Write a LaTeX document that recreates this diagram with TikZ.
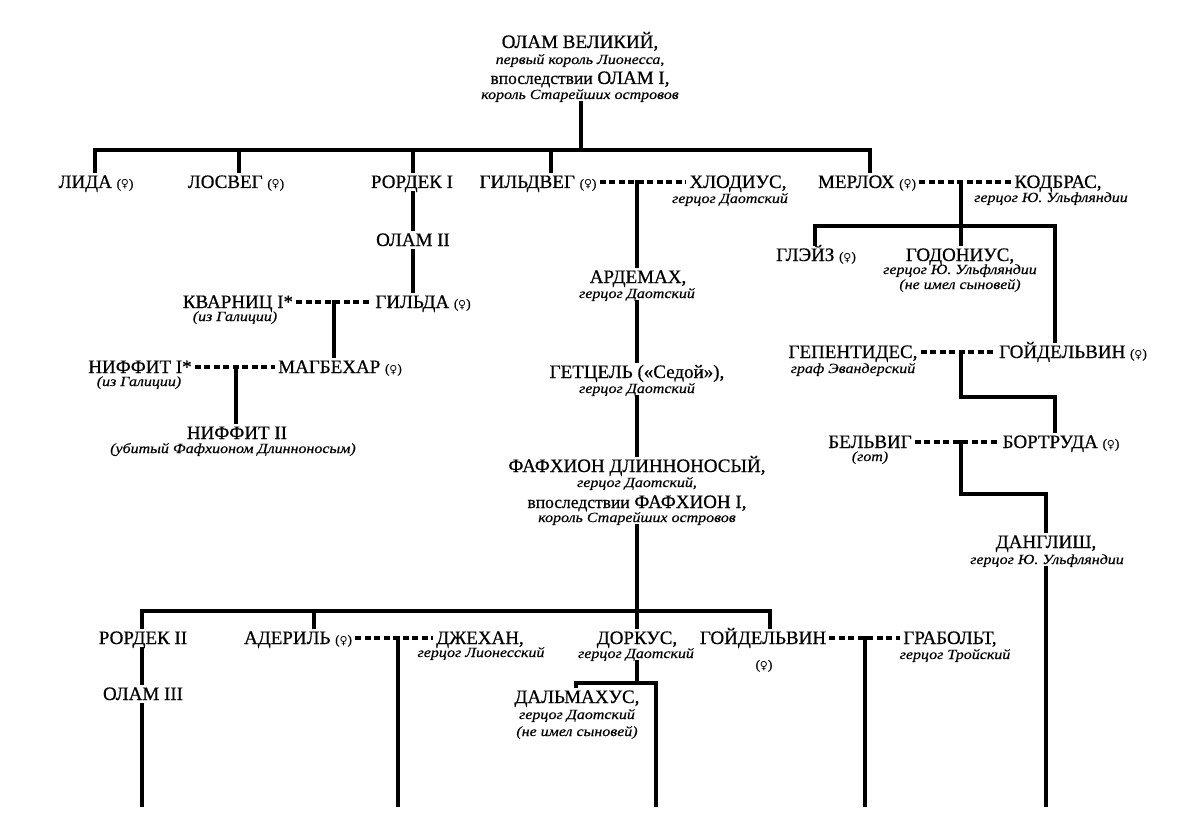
\documentclass[tikz,border=0pt]{standalone}
\usepackage{fontspec}
\setmainfont{Liberation Serif}
\newfontfamily\symf{DejaVu Sans}
\newfontfamily\nmfam[FakeBold=0.6]{Liberation Serif}
\newfontfamily\sbfam[FakeStretch=1.14,FakeBold=0.4]{Liberation Serif}
\newcommand\nmf{\nmfam\fontsize{19}{21}\selectfont}
\newcommand\sbf{\sbfam\fontsize{14}{16}\selectfont\itshape}
\newcommand\lcf{\fontsize{17.5}{18}\selectfont}
\newcommand\fem{{\fontsize{13}{14}\selectfont({\symf\fontsize{11}{12}\selectfont ♀})}}
\tikzset{
  nm/.style={font=\nmf, text height=12pt, text depth=0pt, inner xsep=3pt, inner ysep=5pt},
  sb/.style={font=\sbf, text height=8pt, text depth=2pt, inner xsep=2pt, inner ysep=2pt},
  ln/.style={line width=3.8pt, line cap=rect, line join=miter},
  mar/.style={line width=3.4pt, dash pattern=on 6pt off 3.5pt},
}
\begin{document}
\begin{tikzpicture}[x=1pt,y=-1pt]
\fill[white] (0,0) rectangle (1188,829);
\path[use as bounding box] (0,0) rectangle (1188,829);

% ---- top
\node[nm] (olamA) at (580,42) {ОЛАМ ВЕЛИКИЙ,};
\node[sb] (olamB) at (580,61) {первый король Лионесса,};
\node[nm] (olamC) at (580,78) {{\lcf впоследствии} ОЛАМ I,};
\node[sb] (olamD) at (580,96) {король Старейших островов};

% ---- row 1
\node[nm] (lida) at (96,182) {ЛИДА \fem};
\node[nm] (losveg) at (236,182) {ЛОСВЕГ \fem};
\node[nm] (rordA) at (412,182) {РОРДЕК I};
\node[nm] (gildveg) at (538,182) {ГИЛЬДВЕГ \fem};
\node[nm] (hlod) at (738,182) {ХЛОДИУС,};
\node[sb] (hlodS) at (730,200) {герцог Даотский};
\node[nm] (merloh) at (867,182) {МЕРЛОХ \fem};
\node[nm] (kodbras) at (1058,182) {КОДБРАС,};
\node[sb] (kodbrasS) at (1051,199) {герцог Ю. Ульфляндии};

% ---- left branch
\node[nm] (olamII) at (413,240) {ОЛАМ II};
\node[nm] (gilda) at (423,302) {ГИЛЬДА \fem};
\node[nm] (kvarn) at (238,302) {КВАРНИЦ I*};
\node[sb] (kvarnS) at (235,318) {(из Галиции)};
\node[nm] (magb) at (340,367) {МАГБЕХАР \fem};
\node[nm] (niffA) at (140,367) {НИФФИТ I*};
\node[sb] (niffAS) at (139,383) {(из Галиции)};
\node[nm] (niffB) at (237,433) {НИФФИТ II};
\node[sb] (niffBS) at (233,450) {(убитый Фафхионом Длинноносым)};

% ---- middle branch
\node[nm] (ardem) at (638,277) {АРДЕМАХ,};
\node[sb] (ardemS) at (637,295) {герцог Даотский};
\node[nm] (getz) at (637,372) {ГЕТЦЕЛЬ («Седой»),};
\node[sb] (getzS) at (637,390) {герцог Даотский};
\node[nm] (fafA) at (637,466) {ФАФХИОН ДЛИННОНОСЫЙ,};
\node[sb] (fafB) at (637,484) {герцог Даотский,};
\node[nm] (fafC) at (637,502) {{\lcf впоследствии} ФАФХИОН I,};
\node[sb] (fafD) at (637,519) {король Старейших островов};

% ---- right branch
\node[nm] (glaiz) at (816,255) {ГЛЭЙЗ \fem};
\node[nm] (godon) at (960,255) {ГОДОНИУС,};
\node[sb] (godonS) at (960,271) {герцог Ю. Ульфляндии};
\node[sb] (godonS2) at (960,286) {(не имел сыновей)};
\node[nm] (gepent) at (853,352) {ГЕПЕНТИДЕС,};
\node[sb] (gepentS) at (853,370) {граф Эвандерский};
\node[nm] (goidA) at (1073,352) {ГОЙДЕЛЬВИН \fem};
\node[nm] (belvig) at (870,442) {БЕЛЬВИГ};
\node[sb] (belvigS) at (870,458) {(гот)};
\node[nm] (bortr) at (1061,442) {БОРТРУДА \fem};
\node[nm] (dangl) at (1046,542) {ДАНГЛИШ,};
\node[sb] (danglS) at (1047,561) {герцог Ю. Ульфляндии};

% ---- bottom row
\node[nm] (rordB) at (143,638) {РОРДЕК II};
\node[nm] (olamIII) at (143,694) {ОЛАМ III};
\node[nm] (aderil) at (298,638) {АДЕРИЛЬ \fem};
\node[nm] (dzheh) at (480,638) {ДЖЕХАН,};
\node[sb] (dzhehS) at (481,654) {герцог Лионесский};
\node[nm] (dork) at (637,638) {ДОРКУС,};
\node[sb] (dorkS) at (636,655) {герцог Даотский};
\node[nm] (dalm) at (577,697) {ДАЛЬМАХУС,};
\node[sb] (dalmS) at (577,716) {герцог Даотский};
\node[sb] (dalmS2) at (577,733) {(не имел сыновей)};
\node[nm] (goidB) at (763,638) {ГОЙДЕЛЬВИН};
\node[nm] (goidBS) at (764,663) {\fem};
\node[nm] (grab) at (950,638) {ГРАБОЛЬТ,};
\node[sb] (grabS) at (955,656) {герцог Тройский};

% ---- coordinates
\coordinate (jtop) at (581,150);
\coordinate (b1) at (95,150);
\coordinate (b2) at (239,150);
\coordinate (b3) at (413,150);
\coordinate (b4) at (551,150);
\coordinate (b5) at (870,150);
\coordinate (mKG) at (334,302);
\coordinate (mNM) at (236,367);
\coordinate (mGH) at (637,182);
\coordinate (cx) at (637,611);
\coordinate (mMK) at (961,182);
\coordinate (r1) at (815,226);
\coordinate (r3) at (1055,226);
\coordinate (mGG) at (961,352);
\coordinate (k1) at (961,397);
\coordinate (k2) at (1055,397);
\coordinate (mBB) at (961,442);
\coordinate (k3) at (961,494);
\coordinate (k4) at (1046,494);
\coordinate (eDang) at (1046,805);
\coordinate (c1) at (142,611);
\coordinate (c2) at (314,611);
\coordinate (c6) at (770,611);
\coordinate (eOlam) at (142,805);
\coordinate (mAD) at (398,638);
\coordinate (eAD) at (398,805);
\coordinate (d0) at (637,683);
\coordinate (d1) at (576,683);
\coordinate (d2) at (656,683);
\coordinate (eDork) at (656,805);
\coordinate (mGR) at (865,638);
\coordinate (eGR) at (865,805);

% ---- top connectors
\draw[ln] (jtop |- olamD.south) -- (jtop);
\draw[ln] (b1 |- lida.north) -- (b1) -- (b5) -- (b5 |- merloh.north);
\draw[ln] (b2) -- (b2 |- losveg.north);
\draw[ln] (b3) -- (b3 |- rordA.north);
\draw[ln] (b4) -- (b4 |- gildveg.north);

% ---- left connectors
\draw[ln] (b3 |- rordA.south) -- (b3 |- olamII.north);
\draw[ln] (b3 |- olamII.south) -- (b3 |- gilda.north);
\draw[mar] (kvarn.east) -- (gilda.west);
\draw[ln] (mKG) -- (mKG |- magb.north);
\draw[mar] (niffA.east) -- (magb.west);
\draw[ln] (mNM) -- (mNM |- niffB.north);

% ---- middle connectors
\draw[mar] (gildveg.east) -- (hlod.west);
\draw[ln] (mGH) -- (mGH |- ardem.north);
\draw[ln] (cx |- ardemS.south) -- (cx |- getz.north);
\draw[ln] (cx |- getzS.south) -- (cx |- fafA.north);
\draw[ln] (cx |- fafD.south) -- (cx);

% ---- right connectors
\draw[mar] (merloh.east) -- (kodbras.west);
\draw[ln] (mMK) -- (mMK |- godon.north);
\draw[ln] (r1 |- glaiz.north) -- (r1) -- (r3) -- (r3 |- goidA.north);
\draw[mar] (gepent.east) -- (goidA.west);
\draw[ln] (mGG) -- (k1) -- (k2) -- (k2 |- bortr.north);
\draw[mar] (belvig.east) -- (bortr.west);
\draw[ln] (mBB) -- (k3) -- (k4) -- (k4 |- dangl.north);
\draw[ln] (k4 |- danglS.south) -- (eDang);

% ---- bottom connectors
\draw[ln] (c1 |- rordB.north) -- (c1) -- (c6) -- (c6 |- goidB.north);
\draw[ln] (c2) -- (c2 |- aderil.north);
\draw[ln] (cx) -- (cx |- dork.north);
\draw[ln] (c1 |- rordB.south) -- (c1 |- olamIII.north);
\draw[ln] (c1 |- olamIII.south) -- (eOlam);
\draw[mar] (aderil.east) -- (dzheh.west);
\draw[ln] (mAD) -- (eAD);
\draw[ln] (cx |- dorkS.south) -- (d0);
\draw[ln] (d1 |- dalm.north) -- (d1) -- (d2) -- (eDork);
\draw[mar] (goidB.east) -- (grab.west);
\draw[ln] (mGR) -- (eGR);
\end{tikzpicture}
\end{document}
